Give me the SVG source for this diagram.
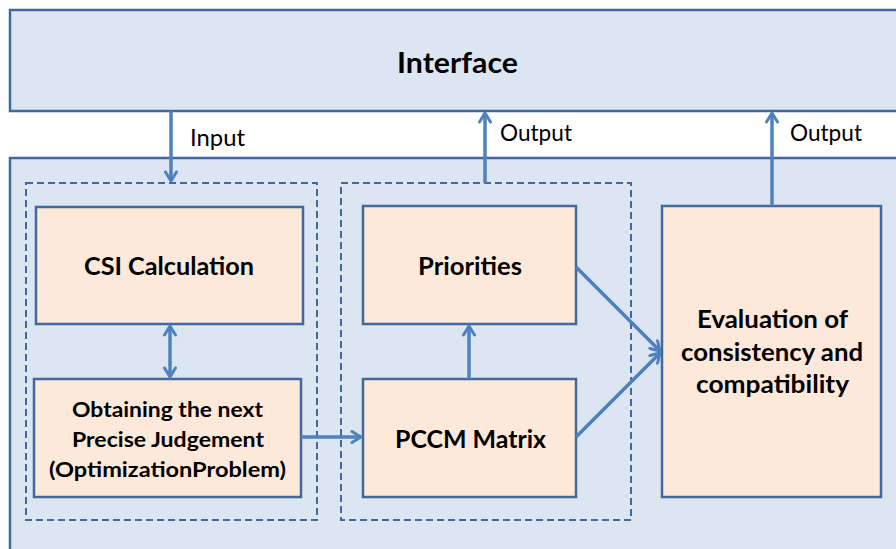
<svg xmlns="http://www.w3.org/2000/svg" width="896" height="549" viewBox="0 0 896 549">
<defs>
<style>
.panel{fill:#DCE6F2;stroke:#41699B;stroke-width:2.5}
.dash{fill:none;stroke:#41699B;stroke-width:2;stroke-dasharray:7,4}
.node{fill:#FDE9D9;stroke:#41699B;stroke-width:2.5}
.t{font-family:Lato,"Liberation Sans",sans-serif;font-weight:bold;fill:#000;text-anchor:middle}
.l{font-family:Lato,"Liberation Sans",sans-serif;fill:#000;font-size:22.5px}
.c{fill:none;stroke:#4F81BD;stroke-width:3.5}
</style>
<marker id="ah" viewBox="0 0 14 14" refX="11" refY="7" markerWidth="14" markerHeight="14" markerUnits="userSpaceOnUse" orient="auto-start-reverse">
<path d="M2,1.5 L11,7 L2,12.5" fill="none" stroke="#4F81BD" stroke-width="3" stroke-linecap="round" stroke-linejoin="round"/>
</marker>
</defs>
<rect x="0" y="0" width="896" height="549" fill="#fff"/>
<g id="interface">
<rect class="panel" x="10" y="10" width="900" height="101"/>
<text class="t" x="457.5" y="73" font-size="29" textLength="121" lengthAdjust="spacingAndGlyphs">Interface</text>
</g>
<g id="system">
<rect class="panel" x="10" y="158" width="900" height="400"/>
</g>
<g id="group1"><rect class="dash" x="26" y="183" width="291" height="337"/></g>
<g id="group2"><rect class="dash" x="341" y="183" width="290" height="337"/></g>
<g id="csi">
<rect class="node" x="36" y="207" width="267" height="117"/>
<text class="t" x="169" y="275" font-size="24.5" textLength="170" lengthAdjust="spacingAndGlyphs">CSI Calculation</text>
</g>
<g id="obtaining">
<rect class="node" x="34" y="379" width="267" height="118"/>
<text class="t" x="167.5" y="417" font-size="21" textLength="191" lengthAdjust="spacingAndGlyphs">Obtaining the next</text>
<text class="t" x="168" y="447" font-size="21" textLength="192" lengthAdjust="spacingAndGlyphs">Precise Judgement</text>
<text class="t" x="167.5" y="477" font-size="21" textLength="237" lengthAdjust="spacingAndGlyphs">(OptimizationProblem)</text>
</g>
<g id="priorities">
<rect class="node" x="363" y="206" width="213" height="118"/>
<text class="t" x="470" y="275" font-size="24.5" textLength="104" lengthAdjust="spacingAndGlyphs">Priorities</text>
</g>
<g id="pccm">
<rect class="node" x="363" y="379" width="213" height="118"/>
<text class="t" x="470.5" y="448" font-size="24.5" textLength="151" lengthAdjust="spacingAndGlyphs">PCCM Matrix</text>
</g>
<g id="evaluation">
<rect class="node" x="662" y="206" width="219" height="291"/>
<text class="t" x="772.5" y="328" font-size="24.5" textLength="151" lengthAdjust="spacingAndGlyphs">Evaluation of</text>
<text class="t" x="772" y="361" font-size="24.5" textLength="182" lengthAdjust="spacingAndGlyphs">consistency and</text>
<text class="t" x="772.5" y="393" font-size="24.5" textLength="153" lengthAdjust="spacingAndGlyphs">compatibility</text>
</g>
<g id="connectors">
<line class="c" x1="171" y1="111" x2="171" y2="181" marker-end="url(#ah)"/>
<line class="c" x1="170" y1="326" x2="170" y2="377" marker-start="url(#ah)" marker-end="url(#ah)"/>
<line class="c" x1="301" y1="437" x2="361" y2="437" marker-end="url(#ah)"/>
<line class="c" x1="469" y1="379" x2="469" y2="326" marker-end="url(#ah)"/>
<line class="c" x1="485" y1="183" x2="485" y2="113" marker-end="url(#ah)"/>
<line class="c" x1="772" y1="206" x2="772" y2="113" marker-end="url(#ah)"/>
<line class="c" x1="576" y1="267" x2="660" y2="351" marker-end="url(#ah)"/>
<line class="c" x1="576" y1="437" x2="660" y2="353" marker-end="url(#ah)"/>
<text class="l" x="190" y="146" textLength="55" lengthAdjust="spacingAndGlyphs">Input</text>
<text class="l" x="500" y="141" textLength="72" lengthAdjust="spacingAndGlyphs">Output</text>
<text class="l" x="790" y="141" textLength="72" lengthAdjust="spacingAndGlyphs">Output</text>
</g>
</svg>
